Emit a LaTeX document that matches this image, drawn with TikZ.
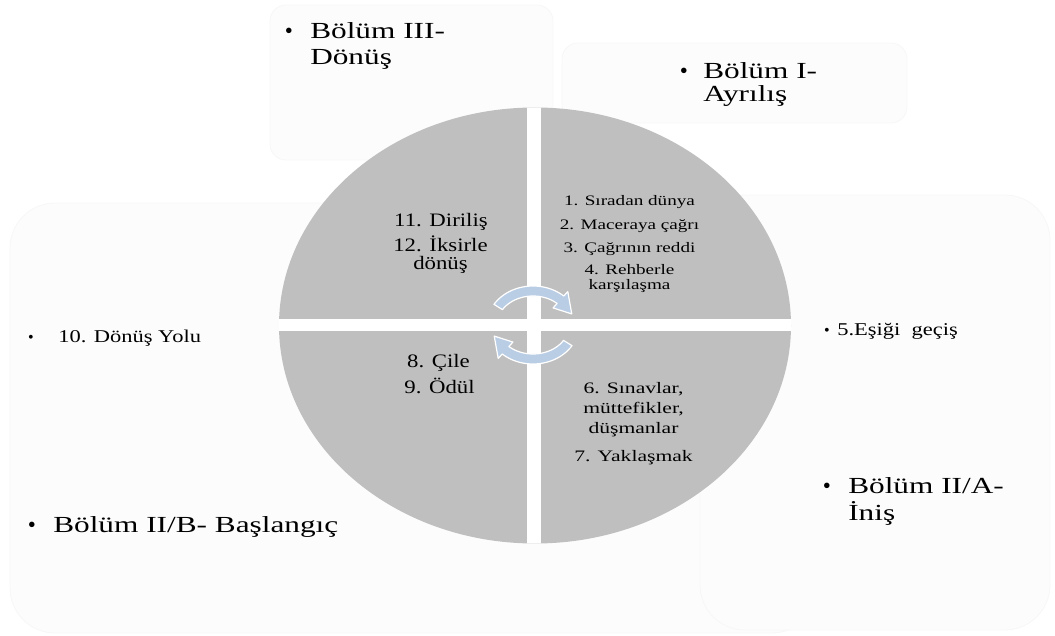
\documentclass[tikz,border=0pt]{standalone}
\usepackage{fontspec}
\setmainfont{Liberation Serif}
\definecolor{quad}{RGB}{191,191,191}
\definecolor{panel}{RGB}{252,252,252}
\definecolor{paneledge}{RGB}{247,247,247}
\definecolor{cyc}{RGB}{185,205,229}
\tikzset{
  panelbox/.style={fill=panel, draw=paneledge, line width=0.8pt, rounded corners=16pt},
  bigtxt/.style={font=\fontsize{23}{26}\selectfont, xscale=1.36, anchor=base west, inner sep=0pt},
  bigdot/.style={font=\fontsize{23}{26}\selectfont, anchor=base, inner sep=0pt},
  midtxt/.style={font=\fontsize{18}{20}\selectfont, xscale=1.25, anchor=base west, inner sep=0pt},
  middot/.style={font=\fontsize{16}{18}\selectfont, anchor=base, inner sep=0pt},
  qleft/.style={font=\fontsize{19}{21}\selectfont, xscale=1.2, anchor=base, inner sep=0pt},
  qbr/.style={font=\fontsize{16}{18}\selectfont, xscale=1.35, anchor=base, inner sep=0pt},
  qtr/.style={font=\fontsize{14.5}{16}\selectfont, xscale=1.32, anchor=base, inner sep=0pt},
  cycarrow/.style={fill=cyc, draw=white, line width=1.2pt, line join=round},
}
\begin{document}
\begin{tikzpicture}[x=1pt,y=-1pt]
\useasboundingbox (0,0) rectangle (1055,636);

% pale panels behind the wheel
\path[panelbox, rounded corners=45pt] (10,203) rectangle (817,633);
\path[panelbox, rounded corners=45pt] (700,195) rectangle (1050,630);
\path[panelbox] (270,5) rectangle (553,160);
\path[panelbox] (562,43) rectangle (907,123);

% the four-part wheel
\begin{scope}
  \clip (535,325.5) ellipse [x radius=256, y radius=218];
  \fill[quad] (270,100) rectangle (800,550);
  \fill[white] (527,100) rectangle (541,550);
  \fill[white] (270,319) rectangle (800,331);
\end{scope}

% cycle arrows in the middle of the wheel
\begin{scope}[shift={(533,325)}]
  \filldraw[cycarrow]
    plot[domain=212:312, samples=30] ({46*cos(\x)},{39*sin(\x)})
    -- ({52*cos(312)},{45*sin(312)})
    -- ({41*cos(341)},{34*sin(341)})
    -- ({30*cos(312)},{23*sin(312)})
    -- plot[domain=312:212, samples=30] ({36*cos(\x)},{29*sin(\x)})
    -- cycle;
  \filldraw[cycarrow]
    plot[domain=32:132, samples=30] ({46*cos(\x)},{39*sin(\x)})
    -- ({52*cos(132)},{45*sin(132)})
    -- ({41*cos(161)},{34*sin(161)})
    -- ({30*cos(132)},{23*sin(132)})
    -- plot[domain=132:32, samples=30] ({36*cos(\x)},{29*sin(\x)})
    -- cycle;
\end{scope}

% upper left quarter
\node[qleft] (q11) at (441,227) {11. Diriliş};
\node[qleft] (q12) at (440.5,252) {12. İksirle};
\node[qleft] (q12b) at (440.5,270) {dönüş};

% upper right quarter
\node[qtr] (q1) at (629.5,206) {1. Sıradan dünya};
\node[qtr] (q2) at (629.5,229.5) {2. Maceraya çağrı};
\node[qtr] (q3) at (629.5,253) {3. Çağrının reddi};
\node[qtr] (q4) at (629.5,275) {4. Rehberle};
\node[qtr] (q4b) at (629.5,290) {karşılaşma};

% lower left quarter
\node[qleft] (q8) at (438.5,367) {8. Çile};
\node[qleft] (q9) at (439.5,393) {9. Ödül};

% lower right quarter
\node[qbr] (q6) at (633.5,393.5) {6. Sınavlar,};
\node[qbr] (q6b) at (633.5,413.5) {müttefikler,};
\node[qbr] (q6c) at (633.5,433.5) {düşmanlar};
\node[qbr] (q7) at (633.5,461) {7. Yaklaşmak};

% part headings
\node[bigdot] (d3) at (289,39) {•};
\node[bigtxt] (p3a) at (310,39) {Bölüm III-};
\node[bigtxt] (p3b) at (310,65) {Dönüş};

\node[bigdot] (d1) at (684,79) {•};
\node[bigtxt] (p1a) at (703,79) {Bölüm I-};
\node[bigtxt] (p1b) at (703,102) {Ayrılış};

\node[bigdot] (d2b) at (32,532) {•};
\node[bigtxt] (p2b) at (53,532) {Bölüm II/B- Başlangıç};

\node[bigdot] (d2a) at (827,493) {•};
\node[bigtxt] (p2a) at (848,493) {Bölüm II/A-};
\node[bigtxt] (p2ab) at (848,520) {İniş};

% single steps outside the wheel
\node[middot] (d10) at (31,343) {•};
\node[midtxt] (s10) at (58,343) {10. Dönüş Yolu};
\node[middot] (d5) at (827,335) {•};
\node[midtxt] (s5) at (837,335) {5.Eşiği\ \ geçiş};
\end{tikzpicture}
\end{document}
